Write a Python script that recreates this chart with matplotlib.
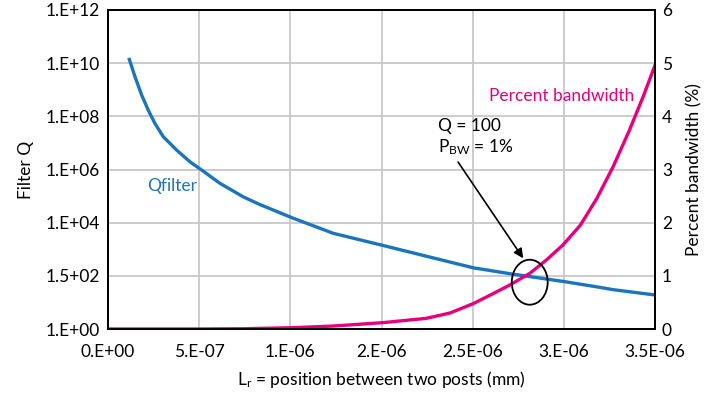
import matplotlib
matplotlib.use("Agg")
import matplotlib.pyplot as plt
from matplotlib.patches import Ellipse
import numpy as np

plt.rcParams['font.family'] = ['Lato', 'DejaVu Sans']
plt.rcParams['mathtext.fontset'] = 'custom'
plt.rcParams['mathtext.rm'] = 'Lato'
plt.rcParams['mathtext.it'] = 'Lato'

# Data: x positions in micrometres (converted to metres below)
q_x_um = [0.117, 0.148, 0.1845, 0.221, 0.2575, 0.3035, 0.3765, 0.4495, 0.5135, 0.614,
          0.742, 0.8335, 1.015, 1.235, 1.51, 1.745, 2.005, 2.205, 2.315, 2.505,
          2.695, 2.77, 3.0]
q_log = [10.14, 9.49, 8.80, 8.23, 7.73, 7.23, 6.73, 6.29, 5.98, 5.48,
         4.97, 4.68, 4.17, 3.60, 3.14, 2.74, 2.30, 2.08, 1.97, 1.78,
         1.57, 1.48, 1.28]

bw_x_um = [0.0, 0.5, 0.75, 1.015, 1.235, 1.51, 1.745, 1.875, 2.005, 2.115,
           2.205, 2.315, 2.405, 2.495, 2.59, 2.68, 2.77, 2.86, 2.935, 3.0]
bw_vals = [0.0, 0.0, 0.005, 0.025, 0.056, 0.12, 0.20, 0.30, 0.48, 0.67,
           0.83, 1.05, 1.30, 1.58, 1.95, 2.45, 3.05, 3.74, 4.37, 4.96]

x_ticks_um = [0, 0.5, 1.0, 1.5, 2.0, 2.5, 3.0]
x_labels = ["0.E+00", "5.E-07", "1.E-06", "2.E-06", "2.5E-06", "3.E-06", "3.5E-06"]
q_ticks = [1e0, 1e2, 1e4, 1e6, 1e8, 1e10, 1e12]
q_labels = ["1.E+00", "1.5+02", "1.E+04", "1.E+06", "1.E+08", "1.E+10", "1.E+12"]
bw_ticks = [0, 1, 2, 3, 4, 5, 6]

q_x = np.array(q_x_um) * 1e-6
q_vals = 10.0 ** np.array(q_log)
bw_x = np.array(bw_x_um) * 1e-6
x_ticks = np.array(x_ticks_um) * 1e-6

BLUE = "#1b75bc"
PINK = "#e6007e"
FS = 12.5

fig = plt.figure(figsize=(7.04, 3.93), dpi=100)
ax = fig.add_axes([108/704, 1-329/393, (655-108)/704, (329-10)/393])
ax.set_yscale('log')
ax.set_xlim(0, 3.0e-6)
ax.set_ylim(1, 1e12)
ax.set_xticks(x_ticks)
ax.set_xticklabels(x_labels)
ax.set_yticks(q_ticks)
ax.set_yticklabels(q_labels)
ax.yaxis.set_minor_locator(matplotlib.ticker.NullLocator())
ax.grid(True, color="#c8c8c8", linewidth=1.3)
ax.set_axisbelow(True)
ax.tick_params(axis='y', length=0, pad=6, labelsize=FS)
ax.tick_params(axis='x', length=0, pad=11, labelsize=FS)
for s in ax.spines.values():
    s.set_color('black')
    s.set_linewidth(1.3)
ax.plot(q_x, q_vals, color=BLUE, linewidth=2.4, solid_joinstyle='round')
ax.set_ylabel("Filter Q", fontsize=FS, labelpad=8)
ax.set_xlabel(r"L$_{\mathrm{r}}$ = position between two posts (mm)", fontsize=FS, labelpad=6)

ax2 = ax.twinx()
ax2.set_ylim(0, 6)
ax2.set_yticks(bw_ticks)
ax2.tick_params(axis='y', length=0, pad=5, labelsize=FS)
ax2.plot(bw_x, bw_vals, color=PINK, linewidth=2.4, solid_joinstyle='round')
ax2.set_ylabel("Percent bandwidth (%)", fontsize=FS, labelpad=10)
for s in ax2.spines.values():
    s.set_color('black')
    s.set_linewidth(1.3)

ax2.text(0.214e-6, 2.69, "Qfilter", color=BLUE, fontsize=FS, ha='left', va='center')
ax2.text(2.09e-6, 4.38, "Percent bandwidth", color=PINK, fontsize=FS, ha='left', va='center')
ax2.text(1.81e-6, 3.82, "Q = 100", color='black', fontsize=FS, ha='left', va='center')
ax2.text(1.81e-6, 3.42, r"P$_{\mathrm{BW}}$ = 1%", color='black', fontsize=FS, ha='left', va='center')
ax2.annotate("", xy=(2.277e-6, 1.33), xytext=(1.92e-6, 3.14),
             arrowprops=dict(arrowstyle='-|>', color='black', lw=1.2,
                             mutation_scale=14, shrinkA=0, shrinkB=0))
ax2.add_patch(Ellipse((2.313e-6, 0.88), 0.197e-6, 0.846, fill=False,
                      edgecolor='black', linewidth=1.3, zorder=5))

fig.savefig("out.png", dpi=100)
